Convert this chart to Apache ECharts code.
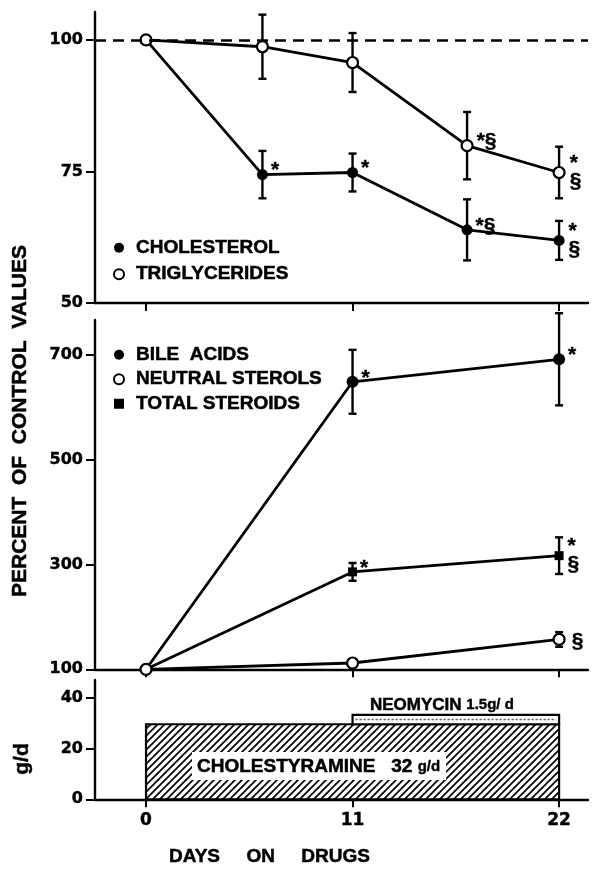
<!DOCTYPE html>
<html>
<head>
<meta charset="utf-8">
<script src="https://cdn.jsdelivr.net/npm/echarts@6/dist/echarts.min.js"></script>
<style>
  html, body { margin: 0; padding: 0; background: #fff; }
  #main { width: 592px; height: 870px; }
</style>
</head>
<body>
<div id="main"></div>
<script>
// 数据 —— 上图：血清胆固醇 / 甘油三酯（对照值百分比）
var topDays = [0, 6.2, 11, 17.1, 22];
var cholesterol = [100, 74.4, 74.8, 63.9, 61.9];
var cholesterolErr = [0, 4.5, 3.6, 5.8, 3.7];
var cholesterolSig = ['', '*', '*', '*§', '*\n§'];
var triglycerides = [100, 98.7, 95.7, 79.9, 74.8];
var triglyceridesErr = [0, 6.1, 5.6, 6.4, 4.9];
var triglyceridesSig = ['', '', '', '*§', '*\n§'];

// 中图：胆汁酸 / 中性固醇 / 总类固醇
var midDays = [0, 11, 22];
var bileAcids = [100, 649, 692];
var bileAcidsErr = [0, 61, 88];
var bileAcidsSig = ['', '*', '*'];
var neutralSterols = [100, 112, 157];
var neutralSterolsErr = [0, 5, 14];
var neutralSterolsSig = ['', '', '§'];
var totalSteroids = [100, 286, 317];
var totalSteroidsErr = [0, 17, 35];
var totalSteroidsSig = ['', '*', '*\n§'];

// 下图：用药剂量 g/d
var cholestyramineSpan = [0, 22];
var cholestyramineLevel = 29.7;
var neomycinSpan = [11, 22];
var neomycinLevel = [29.7, 33.4];

// 刻度
var dayTicks = [0, 11, 22];
var topTicks = [50, 75, 100];
var midTicks = [100, 300, 500, 700];
var doseTicks = [0, 20, 40];

var WORD_FONT = '"Liberation Sans", Arial, sans-serif';
var NUM_FONT = '"DejaVu Sans", sans-serif';

// 斜线填充
var hatch = document.createElement('canvas');
hatch.width = 7; hatch.height = 7;
var hctx = hatch.getContext('2d');
hctx.fillStyle = '#fff';
hctx.fillRect(0, 0, 7, 7);
hctx.strokeStyle = '#000';
hctx.lineWidth = 1.7;
hctx.beginPath();
hctx.moveTo(0, 7); hctx.lineTo(7, 0);
hctx.moveTo(-1, 1); hctx.lineTo(1, -1);
hctx.moveTo(6, 8); hctx.lineTo(8, 6);
hctx.stroke();

function sigLabel(s) {
    if (!s) return { show: false };
    var twoLine = s.indexOf('\n') >= 0;
    return {
        show: true,
        position: 'right',
        distance: 3,
        formatter: s,
        color: '#000',
        fontFamily: WORD_FONT,
        fontWeight: 'bold',
        fontSize: 21,
        lineHeight: twoLine ? 18 : 22,
        textBorderColor: '#000',
        textBorderWidth: 0.4,
        offset: s === '§' ? [3, 2] : (twoLine ? [1, 0] : [0, -4])
    };
}

function pointData(days, vals, sig) {
    return vals.map(function (v, i) {
        return { value: [days[i], v], label: sigLabel(sig[i]) };
    });
}

function errData(days, vals, err) {
    var out = [];
    for (var i = 0; i < vals.length; i++) {
        if (err[i] > 0) out.push([days[i], vals[i] - err[i], vals[i] + err[i]]);
    }
    return out;
}

function renderErr(params, api) {
    var lo = api.coord([api.value(0), api.value(1)]);
    var hi = api.coord([api.value(0), api.value(2)]);
    var w = 4;
    var st = { stroke: '#000', lineWidth: 2.4 };
    return {
        type: 'group',
        children: [
            { type: 'line', shape: { x1: lo[0], y1: lo[1], x2: hi[0], y2: hi[1] }, style: st },
            { type: 'line', shape: { x1: hi[0] - w, y1: hi[1], x2: hi[0] + w, y2: hi[1] }, style: st },
            { type: 'line', shape: { x1: lo[0] - w, y1: lo[1], x2: lo[0] + w, y2: lo[1] }, style: st }
        ]
    };
}

function errSeries(idx, days, vals, err) {
    return {
        type: 'custom',
        xAxisIndex: idx, yAxisIndex: idx,
        renderItem: renderErr,
        data: errData(days, vals, err),
        encode: { x: 0, y: [1, 2] },
        clip: false,
        silent: true,
        z: 1
    };
}

function lineSeries(name, idx, days, vals, sig, symbol, size, filled) {
    return {
        name: name,
        type: 'line',
        xAxisIndex: idx, yAxisIndex: idx,
        data: pointData(days, vals, sig),
        symbol: symbol,
        symbolSize: size,
        showAllSymbol: true,
        lineStyle: { color: '#000', width: 2.8 },
        itemStyle: filled ? { color: '#000' } : { color: '#fff', borderColor: '#000', borderWidth: 2.2 },
        z: 2
    };
}

function xAxisCfg(idx, showLabel) {
    return {
        type: 'value', gridIndex: idx,
        min: -2.717, max: 23.54,
        splitLine: { show: false },
        axisLine: { show: true, onZero: false, lineStyle: { color: '#000', width: 2.4 } },
        axisTick: { show: true, length: 8, customValues: dayTicks, lineStyle: { color: '#000', width: 2 } },
        axisLabel: showLabel ? {
            customValues: dayTicks, margin: 13, color: '#000',
            fontFamily: NUM_FONT, fontWeight: 'bold', fontSize: 17,
            textBorderColor: '#000', textBorderWidth: 0.4
        } : { show: false }
    };
}

function yAxisCfg(idx, min, max, ticks) {
    return {
        type: 'value', gridIndex: idx,
        min: min, max: max,
        splitLine: { show: false },
        axisLine: { show: true, onZero: false, lineStyle: { color: '#000', width: 2.4 } },
        axisTick: { show: true, length: 9, customValues: ticks, lineStyle: { color: '#000', width: 2 } },
        axisLabel: {
            customValues: ticks, margin: 12, color: '#000',
            fontFamily: NUM_FONT, fontWeight: 'bold', fontSize: 16,
            textBorderColor: '#000', textBorderWidth: 0.4
        }
    };
}

var chart = echarts.init(document.getElementById('main'), null, { renderer: 'canvas' });

var legendText = {
    color: '#000', fontFamily: WORD_FONT, fontWeight: 'bold', fontSize: 19,
    textBorderColor: '#000', textBorderWidth: 0.5
};
var boldWord = { fill: '#000', stroke: '#000', lineWidth: 0.5 };

var option = {
    animation: false,
    backgroundColor: '#fff',
    grid: [
        { left: 95, top: 12, width: 493, height: 291 },
        { left: 95, top: 320, width: 493, height: 349.3 },
        { left: 95, top: 680, width: 493, height: 119.3 }
    ],
    xAxis: [xAxisCfg(0, false), xAxisCfg(1, false), xAxisCfg(2, true)],
    yAxis: [
        yAxisCfg(0, 50, 105.3, topTicks),
        yAxisCfg(1, 100, 767, midTicks),
        yAxisCfg(2, 0, 47.2, doseTicks)
    ],
    legend: [
        {
            left: 108, top: 233, orient: 'vertical',
            itemWidth: 24, itemHeight: 10, itemGap: 7,
            selectedMode: false, textStyle: legendText,
            data: [
                { name: 'CHOLESTEROL', icon: 'circle', itemStyle: { color: '#000', borderWidth: 0 } },
                { name: 'TRIGLYCERIDES', icon: 'circle', itemStyle: { color: '#fff', borderColor: '#000', borderWidth: 2 } }
            ]
        },
        {
            left: 108, top: 340, orient: 'vertical',
            itemWidth: 24, itemHeight: 10, itemGap: 5,
            selectedMode: false, textStyle: legendText,
            data: [
                { name: 'BILE  ACIDS', icon: 'circle', itemStyle: { color: '#000', borderWidth: 0 } },
                { name: 'NEUTRAL STEROLS', icon: 'circle', itemStyle: { color: '#fff', borderColor: '#000', borderWidth: 2 } },
                { name: 'TOTAL STEROIDS', icon: 'path://M0,0L10,0L10,10L0,10Z', itemStyle: { color: '#000', borderWidth: 0 } }
            ]
        }
    ],
    graphic: [
        {
            type: 'text', x: 20, y: 421, rotation: Math.PI / 2,
            style: Object.assign({
                text: 'PERCENT  OF  CONTROL  VALUES',
                font: 'bold 21px ' + WORD_FONT, align: 'center', verticalAlign: 'middle'
            }, boldWord)
        },
        {
            type: 'text', x: 22, y: 759, rotation: Math.PI / 2,
            style: Object.assign({
                text: 'g/d',
                font: 'bold 21px ' + WORD_FONT, align: 'center', verticalAlign: 'middle'
            }, boldWord)
        },
        {
            type: 'text', x: 169, y: 857,
            style: Object.assign({
                text: 'DAYS     ON     DRUGS',
                font: 'bold 19px ' + WORD_FONT, align: 'left', verticalAlign: 'middle'
            }, boldWord)
        },
        {
            type: 'text', x: 192, y: 766, z: 10,
            style: {
                text: '{a|CHOLESTYRAMINE}{a|   32 }{b|g/d}', fill: '#000',
                align: 'left', verticalAlign: 'middle',
                backgroundColor: '#fff', padding: [5, 6, 4, 5],
                rich: {
                    a: { font: 'bold 19px ' + WORD_FONT, fill: '#000', stroke: '#000', lineWidth: 0.5 },
                    b: { font: 'bold 15px ' + WORD_FONT, fill: '#000', stroke: '#000', lineWidth: 0.4 }
                }
            }
        },
        {
            type: 'text', x: 370, y: 705, z: 10,
            style: {
                text: '{a|NEOMYCIN }{b|1.5g/ d}', fill: '#000',
                align: 'left', verticalAlign: 'middle',
                rich: {
                    a: { font: 'bold 17px ' + WORD_FONT, fill: '#000', stroke: '#000', lineWidth: 0.5 },
                    b: { font: 'bold 15px ' + WORD_FONT, fill: '#000', stroke: '#000', lineWidth: 0.4 }
                }
            }
        }
    ],
    series: [
        // 上图
        errSeries(0, topDays, cholesterol, cholesterolErr),
        errSeries(0, topDays, triglycerides, triglyceridesErr),
        lineSeries('CHOLESTEROL', 0, topDays, cholesterol, cholesterolSig, 'circle', 11, true),
        (function () {
            var s = lineSeries('TRIGLYCERIDES', 0, topDays, triglycerides, triglyceridesSig, 'circle', 11, false);
            s.markLine = {
                silent: true, symbol: 'none', label: { show: false },
                lineStyle: { color: '#000', width: 2.5, type: [11, 7] },
                data: [{ yAxis: 100 }]
            };
            return s;
        })(),
        // 中图
        errSeries(1, midDays, bileAcids, bileAcidsErr),
        errSeries(1, midDays, totalSteroids, totalSteroidsErr),
        errSeries(1, midDays, neutralSterols, neutralSterolsErr),
        lineSeries('BILE  ACIDS', 1, midDays, bileAcids, bileAcidsSig, 'circle', 12, true),
        lineSeries('TOTAL STEROIDS', 1, midDays, totalSteroids, totalSteroidsSig, 'rect', 9, true),
        lineSeries('NEUTRAL STEROLS', 1, midDays, neutralSterols, neutralSterolsSig, 'circle', 11, false),
        // 下图：药物剂量
        {
            type: 'custom',
            xAxisIndex: 2, yAxisIndex: 2,
            data: [[cholestyramineSpan[0], cholestyramineSpan[1], 0, cholestyramineLevel]],
            encode: { x: [0, 1], y: [2, 3] },
            renderItem: function (params, api) {
                var p0 = api.coord([api.value(0), api.value(3)]);
                var p1 = api.coord([api.value(1), api.value(2)]);
                return {
                    type: 'rect',
                    shape: { x: p0[0], y: p0[1], width: p1[0] - p0[0], height: p1[1] - p0[1] },
                    style: { fill: { image: hatch, repeat: 'repeat' }, stroke: '#000', lineWidth: 2.2 }
                };
            },
            z: 2
        },
        {
            type: 'custom',
            xAxisIndex: 2, yAxisIndex: 2,
            data: [[neomycinSpan[0], neomycinSpan[1], neomycinLevel[0], neomycinLevel[1]]],
            encode: { x: [0, 1], y: [2, 3] },
            renderItem: function (params, api) {
                var p0 = api.coord([api.value(0), api.value(3)]);
                var p1 = api.coord([api.value(1), api.value(2)]);
                var mid = (p0[1] + p1[1]) / 2;
                return {
                    type: 'group',
                    children: [
                        {
                            type: 'rect',
                            shape: { x: p0[0], y: p0[1], width: p1[0] - p0[0], height: p1[1] - p0[1] },
                            style: { fill: '#fff', stroke: '#000', lineWidth: 2.2 }
                        },
                        {
                            type: 'line',
                            shape: { x1: p0[0] + 3, y1: mid, x2: p1[0] - 3, y2: mid },
                            style: { stroke: '#555', lineWidth: 1.5, lineDash: [2, 2] }
                        }
                    ]
                };
            },
            z: 3
        }
    ]
};

chart.setOption(option);
</script>
</body>
</html>
